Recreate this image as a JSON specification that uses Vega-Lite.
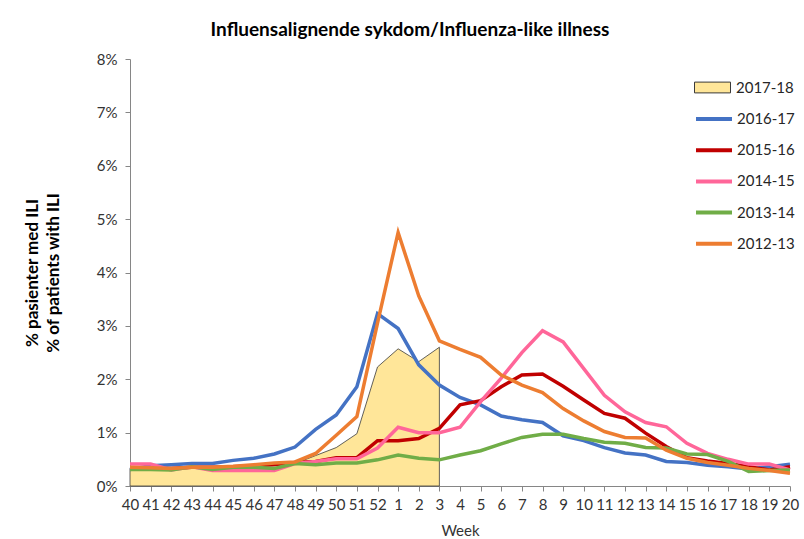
{
  "$schema": "https://vega.github.io/schema/vega-lite/v6.json",
  "width": 660,
  "height": 427,
  "autosize": "none",
  "padding": {"left": 130, "top": 59, "right": 14, "bottom": 53},
  "background": "white",
  "config": {
    "font": "Lato",
    "view": {"stroke": null},
    "axis": {"grid": false, "domainColor": "#868686", "tickColor": "#868686", "labelColor": "#333333", "labelFont": "Lato", "titleFont": "Lato"}
  },
  "title": {
    "text": "Influensalignende sykdom/Influenza-like illness",
    "font": "Lato",
    "fontSize": 19,
    "fontWeight": "bold",
    "color": "#000000",
    "anchor": "middle",
    "dx": -50,
    "offset": 12
  },
  "datasets": {
    "ili": [
      {"s":"2017-18","w":"40","v":0.33},{"s":"2017-18","w":"41","v":0.34},{"s":"2017-18","w":"42","v":0.33},{"s":"2017-18","w":"43","v":0.35},{"s":"2017-18","w":"44","v":0.32},{"s":"2017-18","w":"45","v":0.33},{"s":"2017-18","w":"46","v":0.34},{"s":"2017-18","w":"47","v":0.33},{"s":"2017-18","w":"48","v":0.42},{"s":"2017-18","w":"49","v":0.57},{"s":"2017-18","w":"50","v":0.72},{"s":"2017-18","w":"51","v":0.98},{"s":"2017-18","w":"52","v":2.23},{"s":"2017-18","w":"1","v":2.57},{"s":"2017-18","w":"2","v":2.33},{"s":"2017-18","w":"3","v":2.6},

      {"s":"2016-17","w":"40","v":0.31},{"s":"2016-17","w":"41","v":0.38},{"s":"2016-17","w":"42","v":0.4},{"s":"2016-17","w":"43","v":0.42},{"s":"2016-17","w":"44","v":0.42},{"s":"2016-17","w":"45","v":0.48},{"s":"2016-17","w":"46","v":0.52},{"s":"2016-17","w":"47","v":0.6},{"s":"2016-17","w":"48","v":0.73},{"s":"2016-17","w":"49","v":1.06},{"s":"2016-17","w":"50","v":1.33},{"s":"2016-17","w":"51","v":1.86},{"s":"2016-17","w":"52","v":3.23},{"s":"2016-17","w":"1","v":2.95},{"s":"2016-17","w":"2","v":2.27},{"s":"2016-17","w":"3","v":1.89},{"s":"2016-17","w":"4","v":1.66},{"s":"2016-17","w":"5","v":1.52},{"s":"2016-17","w":"6","v":1.31},{"s":"2016-17","w":"7","v":1.24},{"s":"2016-17","w":"8","v":1.19},{"s":"2016-17","w":"9","v":0.94},{"s":"2016-17","w":"10","v":0.85},{"s":"2016-17","w":"11","v":0.72},{"s":"2016-17","w":"12","v":0.62},{"s":"2016-17","w":"13","v":0.58},{"s":"2016-17","w":"14","v":0.46},{"s":"2016-17","w":"15","v":0.44},{"s":"2016-17","w":"16","v":0.39},{"s":"2016-17","w":"17","v":0.36},{"s":"2016-17","w":"18","v":0.32},{"s":"2016-17","w":"19","v":0.36},{"s":"2016-17","w":"20","v":0.41},

      {"s":"2015-16","w":"40","v":0.33},{"s":"2015-16","w":"41","v":0.33},{"s":"2015-16","w":"42","v":0.33},{"s":"2015-16","w":"43","v":0.35},{"s":"2015-16","w":"44","v":0.35},{"s":"2015-16","w":"45","v":0.36},{"s":"2015-16","w":"46","v":0.38},{"s":"2015-16","w":"47","v":0.4},{"s":"2015-16","w":"48","v":0.44},{"s":"2015-16","w":"49","v":0.46},{"s":"2015-16","w":"50","v":0.53},{"s":"2015-16","w":"51","v":0.53},{"s":"2015-16","w":"52","v":0.85},{"s":"2015-16","w":"1","v":0.85},{"s":"2015-16","w":"2","v":0.89},{"s":"2015-16","w":"3","v":1.08},{"s":"2015-16","w":"4","v":1.52},{"s":"2015-16","w":"5","v":1.6},{"s":"2015-16","w":"6","v":1.86},{"s":"2015-16","w":"7","v":2.08},{"s":"2015-16","w":"8","v":2.1},{"s":"2015-16","w":"9","v":1.87},{"s":"2015-16","w":"10","v":1.61},{"s":"2015-16","w":"11","v":1.36},{"s":"2015-16","w":"12","v":1.27},{"s":"2015-16","w":"13","v":0.99},{"s":"2015-16","w":"14","v":0.74},{"s":"2015-16","w":"15","v":0.53},{"s":"2015-16","w":"16","v":0.47},{"s":"2015-16","w":"17","v":0.42},{"s":"2015-16","w":"18","v":0.36},{"s":"2015-16","w":"19","v":0.3},{"s":"2015-16","w":"20","v":0.36},

      {"s":"2014-15","w":"40","v":0.41},{"s":"2014-15","w":"41","v":0.41},{"s":"2014-15","w":"42","v":0.3},{"s":"2014-15","w":"43","v":0.36},{"s":"2014-15","w":"44","v":0.29},{"s":"2014-15","w":"45","v":0.29},{"s":"2014-15","w":"46","v":0.29},{"s":"2014-15","w":"47","v":0.29},{"s":"2014-15","w":"48","v":0.42},{"s":"2014-15","w":"49","v":0.46},{"s":"2014-15","w":"50","v":0.51},{"s":"2014-15","w":"51","v":0.51},{"s":"2014-15","w":"52","v":0.71},{"s":"2014-15","w":"1","v":1.1},{"s":"2014-15","w":"2","v":1.0},{"s":"2014-15","w":"3","v":1.0},{"s":"2014-15","w":"4","v":1.1},{"s":"2014-15","w":"5","v":1.58},{"s":"2014-15","w":"6","v":2.02},{"s":"2014-15","w":"7","v":2.5},{"s":"2014-15","w":"8","v":2.91},{"s":"2014-15","w":"9","v":2.7},{"s":"2014-15","w":"10","v":2.2},{"s":"2014-15","w":"11","v":1.7},{"s":"2014-15","w":"12","v":1.39},{"s":"2014-15","w":"13","v":1.19},{"s":"2014-15","w":"14","v":1.11},{"s":"2014-15","w":"15","v":0.8},{"s":"2014-15","w":"16","v":0.61},{"s":"2014-15","w":"17","v":0.5},{"s":"2014-15","w":"18","v":0.41},{"s":"2014-15","w":"19","v":0.41},{"s":"2014-15","w":"20","v":0.3},

      {"s":"2013-14","w":"40","v":0.31},{"s":"2013-14","w":"41","v":0.31},{"s":"2013-14","w":"42","v":0.3},{"s":"2013-14","w":"43","v":0.36},{"s":"2013-14","w":"44","v":0.31},{"s":"2013-14","w":"45","v":0.35},{"s":"2013-14","w":"46","v":0.35},{"s":"2013-14","w":"47","v":0.33},{"s":"2013-14","w":"48","v":0.42},{"s":"2013-14","w":"49","v":0.4},{"s":"2013-14","w":"50","v":0.43},{"s":"2013-14","w":"51","v":0.43},{"s":"2013-14","w":"52","v":0.49},{"s":"2013-14","w":"1","v":0.58},{"s":"2013-14","w":"2","v":0.52},{"s":"2013-14","w":"3","v":0.49},{"s":"2013-14","w":"4","v":0.58},{"s":"2013-14","w":"5","v":0.66},{"s":"2013-14","w":"6","v":0.79},{"s":"2013-14","w":"7","v":0.91},{"s":"2013-14","w":"8","v":0.97},{"s":"2013-14","w":"9","v":0.97},{"s":"2013-14","w":"10","v":0.89},{"s":"2013-14","w":"11","v":0.82},{"s":"2013-14","w":"12","v":0.8},{"s":"2013-14","w":"13","v":0.72},{"s":"2013-14","w":"14","v":0.71},{"s":"2013-14","w":"15","v":0.6},{"s":"2013-14","w":"16","v":0.59},{"s":"2013-14","w":"17","v":0.46},{"s":"2013-14","w":"18","v":0.27},{"s":"2013-14","w":"19","v":0.29},{"s":"2013-14","w":"20","v":0.3},

      {"s":"2012-13","w":"40","v":0.35},{"s":"2012-13","w":"41","v":0.34},{"s":"2012-13","w":"42","v":0.33},{"s":"2012-13","w":"43","v":0.35},{"s":"2012-13","w":"44","v":0.35},{"s":"2012-13","w":"45","v":0.37},{"s":"2012-13","w":"46","v":0.4},{"s":"2012-13","w":"47","v":0.43},{"s":"2012-13","w":"48","v":0.45},{"s":"2012-13","w":"49","v":0.61},{"s":"2012-13","w":"50","v":0.95},{"s":"2012-13","w":"51","v":1.3},{"s":"2012-13","w":"52","v":3.05},{"s":"2012-13","w":"1","v":4.75},{"s":"2012-13","w":"2","v":3.56},{"s":"2012-13","w":"3","v":2.72},{"s":"2012-13","w":"4","v":2.56},{"s":"2012-13","w":"5","v":2.41},{"s":"2012-13","w":"6","v":2.08},{"s":"2012-13","w":"7","v":1.89},{"s":"2012-13","w":"8","v":1.75},{"s":"2012-13","w":"9","v":1.45},{"s":"2012-13","w":"10","v":1.22},{"s":"2012-13","w":"11","v":1.02},{"s":"2012-13","w":"12","v":0.91},{"s":"2012-13","w":"13","v":0.9},{"s":"2012-13","w":"14","v":0.67},{"s":"2012-13","w":"15","v":0.52},{"s":"2012-13","w":"16","v":0.44},{"s":"2012-13","w":"17","v":0.39},{"s":"2012-13","w":"18","v":0.33},{"s":"2012-13","w":"19","v":0.29},{"s":"2012-13","w":"20","v":0.24}
    ]
  },
  "data": {"name": "ili"},
  "encoding": {
    "x": {
      "field": "w",
      "type": "ordinal",
      "sort": ["40","41","42","43","44","45","46","47","48","49","50","51","52","1","2","3","4","5","6","7","8","9","10","11","12","13","14","15","16","17","18","19","20"],
      "scale": {"type": "point", "padding": 0},
      "axis": {"title": "Week", "labelAngle": 0, "labelFontSize": 15, "labelPadding": 6, "tickSize": 5, "titleFontSize": 15, "titleFontWeight": "normal", "titleColor": "#333333", "titlePadding": 11}
    },
    "y": {
      "field": "v",
      "type": "quantitative",
      "scale": {"domain": [0, 8], "nice": false},
      "axis": {
        "values": [0,1,2,3,4,5,6,7,8],
        "labelExpr": "datum.value + '%'",
        "labelFontSize": 15,
        "labelPadding": 8,
        "tickSize": 5,
        "title": ["% pasienter med ILI", "% of patients with ILI"],
        "titleFontSize": 17,
        "titleFontWeight": "bold",
        "titleColor": "#000000",
        "titleLineHeight": 21,
        "titlePadding": 34
      }
    }
  },
  "layer": [
    {
      "transform": [{"filter": "datum.s == '2017-18'"}],
      "mark": {"type": "area", "stroke": "#3a3a3a", "strokeWidth": 0.8},
      "encoding": {
        "fill": {
          "field": "s",
          "type": "nominal",
          "scale": {"domain": ["2017-18"], "range": ["#FFE699"]},
          "legend": {
            "title": null,
            "orient": "none",
            "legendX": 564,
            "legendY": 10,
            "padding": 0,
            "symbolType": "M-1,-0.3H1V0.3H-1Z",
            "symbolSize": 1296,
            "symbolStrokeColor": "#3a3a3a",
            "symbolStrokeWidth": 1,
            "labelFontSize": 15,
            "labelColor": "#262626",
            "labelOffset": 5
          }
        }
      }
    },
    {
      "transform": [{"filter": "datum.s != '2017-18'"}],
      "mark": {"type": "line", "strokeWidth": 3.5},
      "encoding": {
        "stroke": {
          "field": "s",
          "type": "nominal",
          "scale": {"domain": ["2016-17","2015-16","2014-15","2013-14","2012-13"], "range": ["#4472C4","#C00000","#FF6699","#70AD47","#ED7D31"]},
          "legend": {
            "title": null,
            "orient": "none",
            "legendX": 564,
            "legendY": 40,
            "padding": 0,
            "symbolType": "stroke",
            "symbolSize": 1296,
            "symbolStrokeWidth": 4,
            "rowPadding": 3.2,
            "labelFontSize": 15,
            "labelColor": "#262626",
            "labelOffset": 3
          }
        }
      }
    }
  ]
}
